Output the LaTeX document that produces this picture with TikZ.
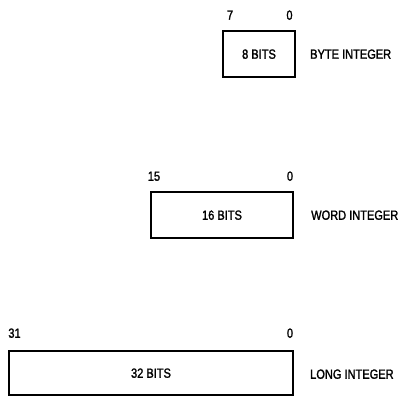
\documentclass[tikz,border=0pt]{standalone}
\usepackage{fontspec}
\setmainfont{Liberation Sans}[FakeStretch=0.83,FakeBold=1.6]
\begin{document}
\begin{tikzpicture}[x=1pt,y=-1pt,
  txt/.style={inner sep=0pt,text height=9.5pt,text depth=0pt,font=\fontsize{13.3}{14}\selectfont},
  reg/.style={draw,line width=1.4pt,inner sep=0pt,text height=9.5pt,text depth=0pt,font=\fontsize{13.3}{14}\selectfont}]
\useasboundingbox (0,0) rectangle (398,396);
% byte
\node[reg,minimum width=72pt,minimum height=46pt] (b1) at (259,54) {8 BITS};
\node[txt] (b1h) at (230,15) {7};
\node[txt] (b1l) at (289.5,15) {0};
\node[txt,anchor=west] (b1n) at (310,54) {BYTE INTEGER};
% word
\node[reg,minimum width=142pt,minimum height=46pt] (b2) at (222,215) {16 BITS};
\node[txt] (b2h) at (154,176) {15};
\node[txt] (b2l) at (290,176) {0};
\node[txt,anchor=west] (b2n) at (311,215) {WORD INTEGER};
% long
\node[reg,minimum width=284pt,minimum height=44pt] (b3) at (151,373) {32 BITS};
\node[txt] (b3h) at (14.5,333) {31};
\node[txt] (b3l) at (290,333) {0};
\node[txt,anchor=west] (b3n) at (310,374) {LONG INTEGER};
\end{tikzpicture}
\end{document}
